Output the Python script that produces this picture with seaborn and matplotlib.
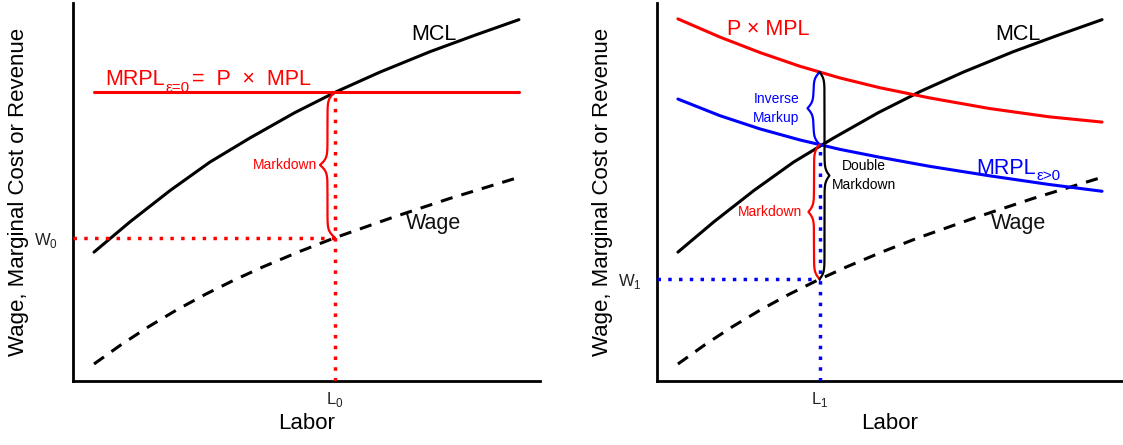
import numpy as np
import matplotlib
matplotlib.use('Agg')
import matplotlib.pyplot as plt
import seaborn as sns

# values: labor on x (0-10), cost / revenue on y (0-10)
labor_mcl = [0.45, 1.22, 2.08, 2.93, 3.79, 4.75, 5.65, 6.57, 7.64, 8.61, 9.55]
mcl = [3.41, 4.21, 5.04, 5.79, 6.43, 7.10, 7.66, 8.17, 8.71, 9.15, 9.56]

labor_wage = [0.45, 1.03, 1.61, 2.22, 2.83, 3.45, 4.07, 4.84, 5.61, 6.23, 6.85,
              7.46, 8.07, 8.81, 9.55]
wage = [0.45, 0.96, 1.43, 1.88, 2.29, 2.67, 3.02, 3.42, 3.79, 4.06, 4.33,
        4.58, 4.83, 5.11, 5.39]

labor_mrpl0 = [0.45, 9.55]
mrpl0 = [7.64, 7.64]

labor_pmpl = [0.45, 1.35, 2.21, 3.06, 3.92, 4.78, 5.85, 7.13, 8.41, 9.55]
pmpl = [9.58, 9.10, 8.69, 8.33, 8.02, 7.76, 7.49, 7.21, 6.99, 6.85]

labor_mrpl1 = [0.45, 1.35, 2.21, 3.06, 3.92, 4.78, 5.85, 7.13, 8.41, 9.55]
mrpl1 = [7.46, 7.02, 6.67, 6.38, 6.13, 5.92, 5.68, 5.43, 5.20, 5.02]

# equilibrium points
L0 = 5.61
L1 = 3.49
W0 = np.interp(L0, labor_wage, wage)
W1 = np.interp(L1, labor_wage, wage)
M0 = np.interp(L0, labor_mrpl0, mrpl0)
M1 = np.interp(L1, labor_mrpl1, mrpl1)
P1 = np.interp(L1, labor_pmpl, pmpl)

RED = '#ff0000'
BLUE = '#0000ff'

sns.set_theme(style='white')
plt.rcParams['font.family'] = ['Liberation Sans', 'DejaVu Sans']

DOTS = (0, (1, 2.1))
DASH = (0, (4, 3))
BIG = 15.5
SUB = 11
SMALL = 10


def brace(ax, x, y0, y1, width, color, lw=1.6, beta=11):
    # curly brace from y0 to y1 hooked on x, tip at x + width
    ym = (y0 + y1) / 2
    t = np.linspace(y0, ym, 150)
    s = 1 / (1 + np.exp(-beta * (t - y0))) + 1 / (1 + np.exp(-beta * (t - ym))) - 0.5
    ys = np.concatenate([t, (y0 + y1) - t[::-1]])
    xs = x + width * np.concatenate([s, s[::-1]])
    ax.plot(xs, ys, color=color, lw=lw, solid_capstyle='round', zorder=4)
    return x + width, ym


def label_sub(ax, x, y, main, sub, rest, color):
    # main text, lowered small subscript, then the rest of the line
    t = ax.text(x, y, main, color=color, fontsize=BIG, ha='left', va='baseline')
    s = ax.annotate(sub, xy=(1, 0), xycoords=t, xytext=(0.3, -3.3),
                    textcoords='offset points', color=color, fontsize=SUB,
                    ha='left', va='bottom')
    if rest:
        ax.annotate(rest, xy=(1, 0), xycoords=(s, t), xytext=(1.5, 0),
                    textcoords='offset points', color=color, fontsize=BIG,
                    ha='left', va='bottom')


def setup(ax, L, W, lsub):
    ax.set_xlim(0, 10)
    ax.set_ylim(0, 10)
    for side in ['top', 'right']:
        ax.spines[side].set_visible(False)
    for side in ['left', 'bottom']:
        ax.spines[side].set_color('black')
        ax.spines[side].set_linewidth(2)
    ax.set_xticks([L])
    ax.set_xticklabels([r'L$_{\mathregular{%s}}$' % lsub])
    ax.set_yticks([W])
    ax.set_yticklabels([r'W$_{\mathregular{%s}}$' % lsub])
    ax.tick_params(axis='x', length=0, pad=6.5, labelsize=12, colors='#222222')
    ax.tick_params(axis='y', length=0, pad=11, labelsize=12, colors='#222222')
    ax.set_xlabel('Labor', fontsize=16, color='black')
    ax.set_ylabel('Wage, Marginal Cost or Revenue', fontsize=16, color='black')
    ax.xaxis.set_label_coords(0.5, -0.085)
    ax.yaxis.set_label_coords(-0.094, 0.5)


fig = plt.figure(figsize=(11.23, 4.45), dpi=100)
ax1 = fig.add_axes([0.065, 0.1438, 0.4158, 0.8494])
ax2 = fig.add_axes([0.585, 0.1438, 0.415, 0.8494])

# ---- left panel: competitive product market
sns.lineplot(x=labor_mcl, y=mcl, ax=ax1, color='black', linewidth=2.2)
sns.lineplot(x=labor_wage, y=wage, ax=ax1, color='black', linewidth=2.2, linestyle=DASH)
sns.lineplot(x=labor_mrpl0, y=mrpl0, ax=ax1, color=RED, linewidth=2.2)
ax1.plot([0, L0], [W0, W0], color=RED, lw=2.5, linestyle=DOTS, zorder=3)
ax1.plot([L0, L0], [0, M0], color=RED, lw=2.5, linestyle=DOTS, zorder=3)
tx, ty = brace(ax1, L0, W0, M0, -0.32, RED)
ax1.text(tx - 0.06, ty, 'Markdown', color=RED, fontsize=SMALL, ha='right', va='center')
label_sub(ax1, 0.70, 7.83, 'MRPL', 'ε=0', '=  P  ×  MPL', RED)
ax1.text(7.25, 9.02, 'MCL', color='black', fontsize=BIG, ha='left', va='baseline')
ax1.text(7.14, 4.02, 'Wage', color='#111111', fontsize=BIG, ha='left', va='baseline')
setup(ax1, L0, W0, '0')

# ---- right panel: market power in product market
sns.lineplot(x=labor_mcl, y=mcl, ax=ax2, color='black', linewidth=2.2)
sns.lineplot(x=labor_wage, y=wage, ax=ax2, color='black', linewidth=2.2, linestyle=DASH)
sns.lineplot(x=labor_pmpl, y=pmpl, ax=ax2, color=RED, linewidth=2.2)
sns.lineplot(x=labor_mrpl1, y=mrpl1, ax=ax2, color=BLUE, linewidth=2.2)
ax2.plot([0, L1], [W1, W1], color=BLUE, lw=2.5, linestyle=DOTS, zorder=3)
ax2.plot([L1, L1], [0, M1], color=BLUE, lw=2.5, linestyle=DOTS, zorder=3)
tx, ty = brace(ax2, L1, M1, P1, -0.26, BLUE)
ax2.text(tx - 0.17, ty, 'Inverse\nMarkup', color=BLUE, fontsize=SMALL, ha='right',
         va='center', multialignment='center', linespacing=1.5)
tx, ty = brace(ax2, L1, W1, M1, -0.24, RED)
ax2.text(tx - 0.13, ty, 'Markdown', color=RED, fontsize=SMALL, ha='right', va='center')
tx, ty = brace(ax2, L1, W1, P1, 0.21, 'black')
ax2.text(tx + 0.06, ty, 'Double\nMarkdown', color='black', fontsize=SMALL, ha='left',
         va='center', multialignment='center', linespacing=1.5)
ax2.text(1.51, 9.15, 'P × MPL', color=RED, fontsize=BIG, ha='left', va='baseline')
ax2.text(7.26, 9.02, 'MCL', color='black', fontsize=BIG, ha='left', va='baseline')
ax2.text(7.17, 4.01, 'Wage', color='#111111', fontsize=BIG, ha='left', va='baseline')
label_sub(ax2, 6.85, 5.48, 'MRPL', 'ε>0', '', BLUE)
setup(ax2, L1, W1, '1')

fig.savefig('out.png', dpi=100)
